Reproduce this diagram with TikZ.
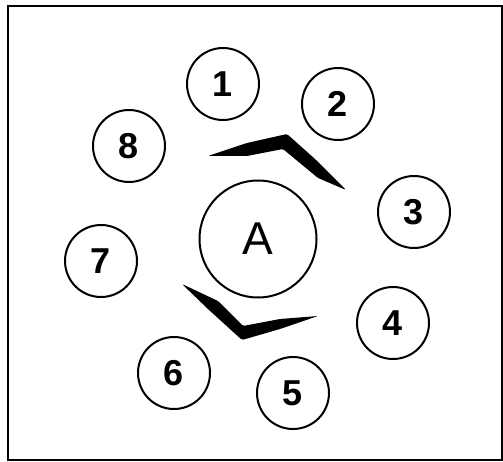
\documentclass[tikz,border=0pt]{standalone}
\usepackage{fontspec}
\setmainfont{Liberation Sans}
\usetikzlibrary{positioning}

\begin{document}
\begin{tikzpicture}[x=1pt, y=-1pt,
  pin/.style={draw, circle, line width=2pt, minimum size=72pt, inner sep=0pt,
              font=\fontsize{36}{36}\selectfont\bfseries},
  hub/.style={draw, circle, line width=2pt, minimum size=117pt, inner sep=0pt,
              font=\fontsize{46}{46}\selectfont},
  blade/.style={fill=black, rounded corners=1.5pt}]
  \useasboundingbox (0,0) rectangle (503,462);
  \draw[line width=2.2pt] (8,6) rectangle (502,460);

  % centre and the ring of eight
  \node[hub] (A) at (258,239) {A};
  \node[pin] (p1) at (223,84)  {1};
  \node[pin] (p2) at (338,104) {2};
  \node[pin] (p3) at (414,212) {3};
  \node[pin] (p4) at (393,323) {4};
  \node[pin] (p5) at (293,393) {5};
  \node[pin] (p6) at (174,373) {6};
  \node[pin] (p7) at (101,261) {7};
  \node[pin] (p8) at (129,146) {8};

  % the two bent strokes
  \fill[blade] (208,156) -- (247,143) -- (287,134) -- (315,159) -- (346,190)
    -- (318,178) -- (283,149) -- (247,156) -- cycle;
  \fill[blade] (182,284) -- (209,310) -- (242,340) -- (280,329) -- (318,316)
    -- (280,319) -- (243,326) -- (218,301) -- cycle;
\end{tikzpicture}
\end{document}
